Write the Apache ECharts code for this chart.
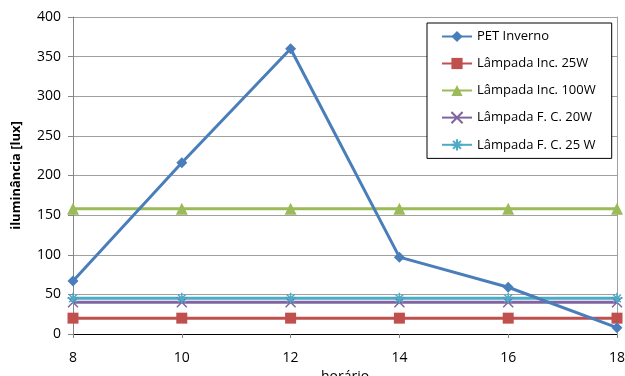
<!DOCTYPE html>
<html>
<head>
<meta charset="utf-8">
<script src="https://cdn.jsdelivr.net/npm/echarts@6/dist/echarts.min.js"></script>
<style>html,body{margin:0;padding:0;background:#fff;}#c{width:625px;height:376px;}</style>
</head>
<body>
<div id="c"></div>
<script>
var hours = [8, 10, 12, 14, 16, 18];
var seriesNames = ['PET Inverno', 'Lâmpada Inc. 25W', 'Lâmpada Inc. 100W', 'Lâmpada F. C. 20W', 'Lâmpada F. C. 25 W'];
var petInverno = [67, 216, 360, 97, 59, 8];
var lampInc25 = [20, 20, 20, 20, 20, 20];
var lampInc100 = [158, 158, 158, 158, 158, 158];
var lampFC20 = [40, 40, 40, 40, 40, 40];
var lampFC25 = [45, 45, 45, 45, 45, 45];
var yTicks = [0, 50, 100, 150, 200, 250, 300, 350, 400];

function pairs(vals) { return hours.map(function (h, i) { return [h, vals[i]]; }); }

var FONT = '"Open Sans", sans-serif';
var chart = echarts.init(document.getElementById('c'), null, { renderer: 'canvas' });

function mk(name, vals, color, symbol, size, extra) {
  var s = {
    name: name, type: 'line', data: pairs(vals), symbol: symbol, symbolSize: size,
    lineStyle: { color: color, width: 3 },
    itemStyle: { color: color },
    animation: false
  };
  if (extra) { for (var k in extra) s[k] = extra[k]; }
  return s;
}

var option = {
  animation: false,
  grid: { left: 73, right: 8, top: 17, bottom: 42, containLabel: false, outerBoundsMode: 'none' },
  legend: {
    left: 427, top: 23, orient: 'vertical',
    data: seriesNames,
    backgroundColor: '#fff', borderColor: '#000', borderWidth: 1,
    padding: [7, 16, 7, 14],
    itemWidth: 30, itemHeight: 14, itemGap: 14,
    textStyle: { fontFamily: FONT, fontSize: 13, color: '#000' }
  },
  xAxis: [{
    type: 'value', min: 8, max: 18, interval: 2,
    name: 'horário', nameLocation: 'middle', nameGap: 34,
    nameTextStyle: { fontFamily: FONT, fontSize: 14, color: '#000' },
    axisLine: { show: true, lineStyle: { color: '#868686', width: 1 } },
    axisTick: { show: true, length: 4, lineStyle: { color: '#868686' } },
    axisLabel: { fontFamily: FONT, fontSize: 14, color: '#000', margin: 17 },
    splitLine: { show: false }
  }, {
    type: 'value', min: 8, max: 18, position: 'top',
    axisLine: { show: true, lineStyle: { color: '#000', width: 1 } },
    axisTick: { show: false }, axisLabel: { show: false }, splitLine: { show: false }
  }],
  yAxis: [{
    type: 'value', min: 0, max: 400, interval: 50,
    name: 'iluminância [lux]', nameLocation: 'middle', nameGap: 50,
    nameTextStyle: { fontFamily: FONT, fontSize: 13, fontWeight: 'bold', color: '#000' },
    axisLine: { show: true, lineStyle: { color: '#868686', width: 1 } },
    axisTick: { show: true, length: 5, lineStyle: { color: '#868686' } },
    axisLabel: { fontFamily: FONT, fontSize: 14, color: '#000', margin: 12,
      formatter: function (v) { return yTicks.indexOf(v) >= 0 ? String(v) : ''; } },
    splitLine: { show: true, lineStyle: { color: '#A0A0A0', width: 1 } }
  }, {
    type: 'value', min: 0, max: 400, position: 'right',
    axisLine: { show: true, lineStyle: { color: '#A0A0A0', width: 1 } },
    axisTick: { show: false }, axisLabel: { show: false }, splitLine: { show: false }
  }],
  series: [
    mk(seriesNames[2], lampInc100, '#9BBB59', 'triangle', 12),
    mk(seriesNames[1], lampInc25, '#C0504D', 'rect', 11),
    mk(seriesNames[3], lampFC20, '#8064A2', 'path://M0 0L10 10M10 0L0 10', 10,
      { itemStyle: { color: 'rgba(0,0,0,0)', borderColor: '#8064A2', borderWidth: 1.5 } }),
    mk(seriesNames[4], lampFC25, '#4BACC6', 'path://M0 5L10 5M5 0L5 10M1.5 1.5L8.5 8.5M8.5 1.5L1.5 8.5', 11,
      { itemStyle: { color: 'rgba(0,0,0,0)', borderColor: '#4BACC6', borderWidth: 1.5 } }),
    mk(seriesNames[0], petInverno, '#4A7EBB', 'diamond', 11)
  ]
};
chart.setOption(option);
</script>
</body>
</html>
